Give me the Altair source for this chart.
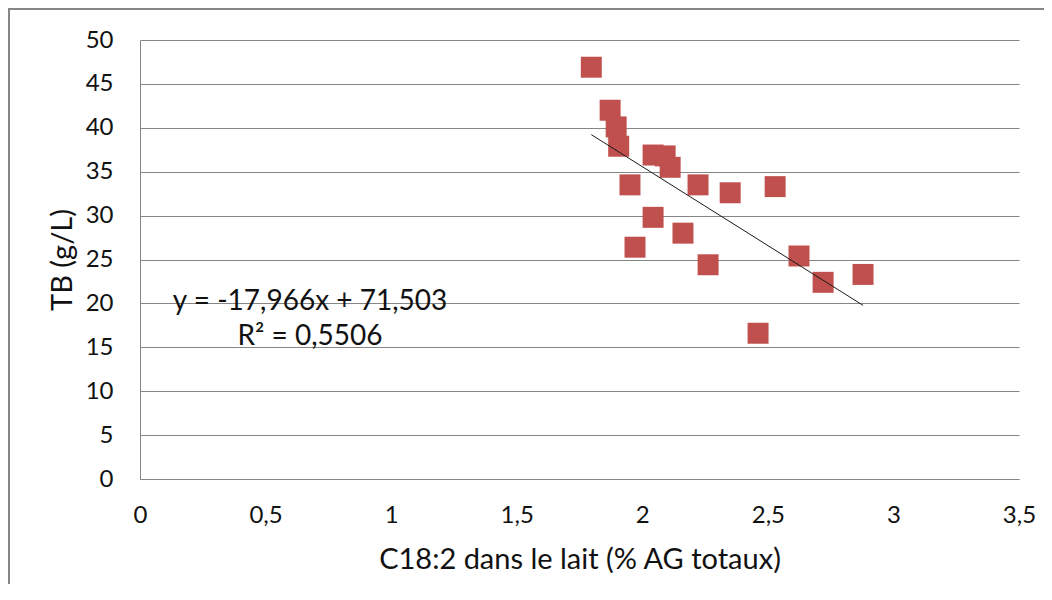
import altair as alt
import pandas as pd

# Data
c18_2 = [1.797, 1.872, 1.896, 1.906, 2.043, 2.091, 2.111, 1.951, 2.222, 2.350,
         2.529, 2.043, 2.162, 1.971, 2.262, 2.624, 2.720, 2.879, 2.461]
tb = [46.9, 42.0, 40.1, 37.9, 36.9, 36.8, 35.5, 33.5, 33.5, 32.6,
      33.3, 29.8, 28.0, 26.4, 24.4, 25.4, 22.4, 23.3, 16.6]

trend_slope = -17.966
trend_intercept = 71.503
eq_lines = ["y = -17,966x + 71,503", "R² = 0,5506"]
eq_x = [0.677, 0.677]
eq_y = [20.2, 16.2]

x_ticks = [0, 0.5, 1, 1.5, 2, 2.5, 3, 3.5]
y_ticks = [0, 5, 10, 15, 20, 25, 30, 35, 40, 45, 50]

FONT = "Lato"
GRID = "#868686"
TEXT = "#111111"

pts = pd.DataFrame({"x": c18_2, "y": tb})
eq = pd.DataFrame({"x": eq_x, "y": eq_y, "t": eq_lines})

xscale = alt.Scale(domain=[0, 3.5], nice=False, zero=False)
yscale = alt.Scale(domain=[0, 50], nice=False)

xaxis = alt.Axis(values=x_ticks, grid=False, ticks=False, labelFlush=False,
                 labelExpr="replace(toString(datum.value), '.', ',')",
                 title="C18:2 dans le lait (% AG totaux)",
                 labelPadding=24, titlePadding=18)
yaxis = alt.Axis(values=y_ticks, grid=True, ticks=False, labelFlush=False,
                 title="TB (g/L)", labelPadding=27, titlePadding=8)

points = alt.Chart(pts).mark_point(
    shape="square", filled=True, size=440, color="#C0504D", opacity=1
).encode(
    x=alt.X("x:Q", scale=xscale, axis=xaxis),
    y=alt.Y("y:Q", scale=yscale, axis=yaxis),
)

trend = alt.Chart(pts).transform_aggregate(
    xmin="min(x)", xmax="max(x)"
).transform_fold(["xmin", "xmax"], as_=["k", "xv"]).transform_calculate(
    yv=f"{trend_intercept} + ({trend_slope}) * datum.xv"
).mark_line(color="#1a1a1a", strokeWidth=1).encode(
    x=alt.X("xv:Q", scale=xscale),
    y=alt.Y("yv:Q", scale=yscale),
)

eq_text = alt.Chart(eq).mark_text(
    font=FONT, fontSize=28, color=TEXT, align="center", baseline="middle"
).encode(
    x=alt.X("x:Q", scale=xscale),
    y=alt.Y("y:Q", scale=yscale),
    text="t:N",
)

border = alt.Chart(pd.DataFrame({"a": [0]})).mark_rect(
    fillOpacity=0, stroke=GRID, strokeWidth=2
).encode(
    x=alt.value(-131), x2=alt.value(1000),
    y=alt.value(-31), y2=alt.value(700),
)

chart = alt.layer(points, trend, eq_text, border).properties(
    width=879, height=439,
    autosize=alt.AutoSizeParams(type="none"),
    padding={"left": 132, "top": 32, "right": 25, "bottom": 105},
    background="white",
).configure_view(stroke=None).configure_axis(
    labelFont=FONT, titleFont=FONT, labelFontSize=24, titleFontSize=29,
    labelColor=TEXT, titleColor=TEXT, titleFontWeight="normal",
    domainColor=GRID, gridColor=GRID, domainWidth=1, gridWidth=1,
)

chart.save("out.html", embed_options={"renderer": "svg", "actions": False})
